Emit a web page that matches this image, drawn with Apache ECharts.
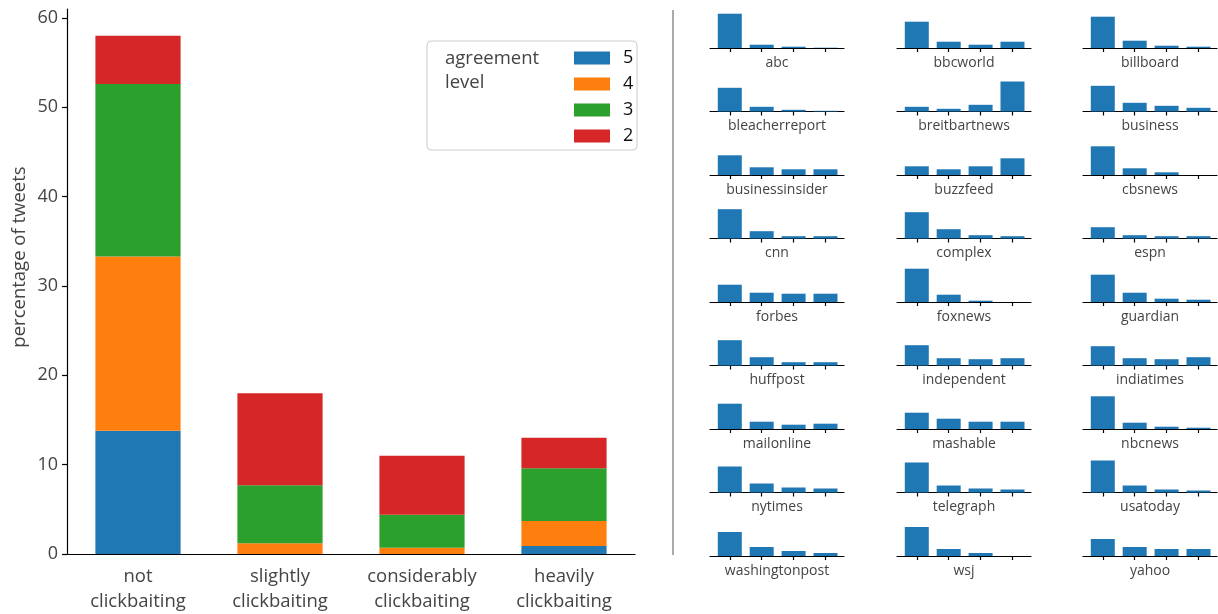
<!DOCTYPE html>
<html>
<head>
<meta charset="utf-8">
<script src="https://cdn.jsdelivr.net/npm/echarts@6/dist/echarts.min.js"></script>
<style>
  html, body { margin: 0; padding: 0; background: #fff; }
  #chart { width: 1218px; height: 614px; }
</style>
</head>
<body>
<div id="chart"></div>
<script>
// main stacked chart
var categories = ['not\nclickbaiting', 'slightly\nclickbaiting', 'considerably\nclickbaiting', 'heavily\nclickbaiting'];
var level5 = [13.8, 0, 0, 0.9];
var level4 = [19.5, 1.2, 0.7, 2.8];
var level3 = [19.3, 6.5, 3.7, 5.9];
var level2 = [5.4, 10.3, 6.6, 3.4];
var levelNames = ['5', '4', '3', '2'];
var yTicks = [0, 10, 20, 30, 40, 50, 60];

// small multiples, one bar per clickbait class
var publishers = [
  'abc', 'bbcworld', 'billboard',
  'bleacherreport', 'breitbartnews', 'business',
  'businessinsider', 'buzzfeed', 'cbsnews',
  'cnn', 'complex', 'espn',
  'forbes', 'foxnews', 'guardian',
  'huffpost', 'independent', 'indiatimes',
  'mailonline', 'mashable', 'nbcnews',
  'nytimes', 'telegraph', 'usatoday',
  'washingtonpost', 'wsj', 'yahoo'
];
var publisherBars = [
  [34.3, 3.3, 1.3, 0.3], [26.3, 6.3, 3.3, 6.3], [31.3, 7.3, 2.3, 1.3],
  [23.7, 4.7, 1.7, 0.7], [4.7, 2.7, 6.7, 30.0], [25.7, 8.7, 5.7, 3.7],
  [19.7, 7.7, 5.7, 5.7], [8.7, 5.7, 8.7, 16.7], [28.7, 6.7, 2.7, 0],
  [29.3, 7.3, 2.3, 2.3], [26.3, 9.3, 3.3, 2.3], [11.3, 3.3, 2.3, 2.3],
  [17.3, 9.3, 8.3, 8.3], [33.3, 7.3, 1.3, 0], [27.3, 9.3, 3.3, 2.3],
  [25.3, 8.3, 3.3, 3.3], [20.3, 7.3, 6.3, 7.3], [19.3, 7.3, 6.3, 8.3],
  [25.3, 7.3, 4.3, 5.3], [16.3, 10.3, 7.3, 7.3], [32.7, 6.3, 2.3, 1.3],
  [26.0, 9.0, 5.0, 4.0], [30.0, 7.0, 4.0, 3.0], [32.0, 7.0, 3.0, 2.0],
  [24.0, 9.0, 5.0, 3.0], [29.0, 7.0, 3.0, 0], [17.0, 9.0, 7.0, 7.0]
];
var smallTicks = [0, 1, 2, 3];

var FONT = '"Open Sans", sans-serif';
var colors = ['#1f77b4', '#ff7f0e', '#2ca02c', '#d62728'];

var myChart = echarts.init(document.getElementById('chart'));

var grids = [{ left: 67, top: 9, width: 568, bottom: 60 }];
var xAxes = [{
  gridIndex: 0,
  type: 'category',
  data: categories,
  boundaryGap: true,
  axisLine: { lineStyle: { color: '#000', width: 1.2 } },
  axisTick: { alignWithLabel: true, length: 5, lineStyle: { color: '#000', width: 1.2 } },
  axisLabel: { interval: 0, fontFamily: FONT, fontSize: 18.5, color: '#444', lineHeight: 25, margin: 10 }
}];
var yAxes = [{
  gridIndex: 0,
  type: 'value',
  min: 0,
  max: 61,
  splitLine: { show: false },
  axisLine: { show: true, lineStyle: { color: '#000', width: 1.2 } },
  axisTick: { show: true, length: 5, customValues: yTicks, lineStyle: { color: '#000', width: 1.2 } },
  axisLabel: { customValues: yTicks, fontFamily: FONT, fontSize: 18, color: '#444', margin: 9 }
}];

var series = [level5, level4, level3, level2].map(function (d, i) {
  return {
    name: levelNames[i],
    type: 'bar',
    stack: 'agreement',
    xAxisIndex: 0,
    yAxisIndex: 0,
    barWidth: '60%',
    itemStyle: { color: colors[i] },
    data: d
  };
});

var colLeft = [710, 897, 1083];
publishers.forEach(function (name, i) {
  var col = i % 3;
  var row = Math.floor(i / 3);
  var base = 48 + row * 63.5;
  grids.push({ left: colLeft[col], top: base - 36, width: 134, height: 36 });
  xAxes.push({
    gridIndex: i + 1,
    type: 'value',
    min: -0.62,
    max: 3.58,
    name: name,
    nameLocation: 'middle',
    nameGap: 8,
    nameTextStyle: { fontFamily: FONT, fontSize: 14, color: '#444' },
    splitLine: { show: false },
    axisLine: { lineStyle: { color: '#000', width: 1.2 } },
    axisTick: { show: true, length: 4, customValues: smallTicks, lineStyle: { color: '#000', width: 1.2 } },
    axisLabel: { show: false }
  });
  yAxes.push({ gridIndex: i + 1, type: 'value', min: 0, max: 36, show: false });
  series.push({
    type: 'bar',
    xAxisIndex: i + 1,
    yAxisIndex: i + 1,
    barWidth: 24,
    itemStyle: { color: '#1f77b4' },
    data: publisherBars[i].map(function (v, k) { return [smallTicks[k], v]; })
  });
});

var option = {
  animation: false,
  textStyle: { fontFamily: FONT },
  grid: grids,
  xAxis: xAxes,
  yAxis: yAxes,
  legend: {
    data: levelNames,
    orient: 'vertical',
    left: 569,
    top: 43,
    icon: 'rect',
    itemWidth: 36,
    itemHeight: 13,
    itemGap: 6,
    textStyle: { fontFamily: FONT, fontSize: 18, color: '#111', lineHeight: 20, padding: [0, 0, 0, 8] }
  },
  graphic: [
    {
      type: 'rect',
      shape: { x: 427, y: 41, width: 210, height: 109, r: 4 },
      style: { fill: 'rgba(255,255,255,0.8)', stroke: '#ccc', lineWidth: 1 },
      z: 1
    },
    {
      type: 'text',
      x: 445, y: 47,
      style: { text: 'agreement\nlevel', fontFamily: FONT, fontSize: 18.5, lineHeight: 23.5, fill: '#444' },
      z: 2
    },
    {
      type: 'text',
      x: 19.5, y: 257,
      rotation: Math.PI / 2,
      style: { text: 'percentage of tweets', fontFamily: FONT, fontSize: 18.5, fill: '#444', align: 'center', verticalAlign: 'middle' }
    },
    {
      type: 'line',
      shape: { x1: 673, y1: 10, x2: 673, y2: 555 },
      style: { stroke: '#aaa', lineWidth: 2 }
    }
  ],
  series: series
};

myChart.setOption(option);
</script>
</body>
</html>
